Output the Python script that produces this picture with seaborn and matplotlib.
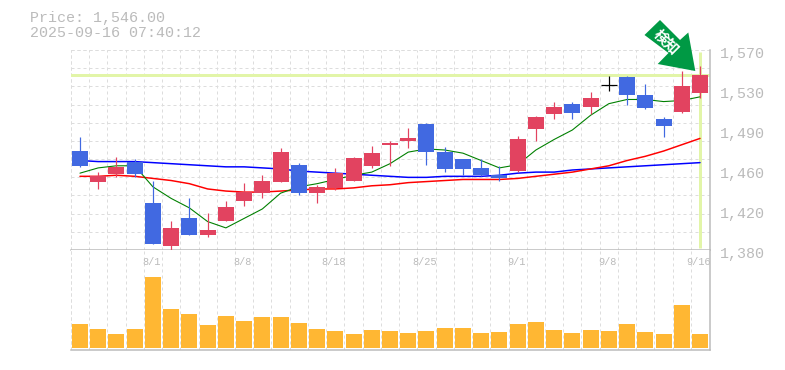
import numpy as np
import pandas as pd
import matplotlib
matplotlib.use("Agg")
import matplotlib.pyplot as plt
from matplotlib.patches import Polygon
import seaborn as sns

# ---- data ----
highs  = [1487,1454,1468,1466,1446,1408,1429,1415,1427,1444,1451,1477,1463,1442,1458,1468,1479,1484,1496,1501,1478,1466,1466,1460,1488,1507,1521,1521,1530,1545,1545,1538,1506,1550,1555]
lows   = [1459,1438,1449,1449,1386,1380,1394,1392,1408,1422,1429,1445,1432,1425,1437,1446,1458,1460,1477,1461,1454,1451,1450,1446,1454,1484,1504,1504,1509,1531,1518,1514,1487,1510,1524]
opens  = [1474,1445,1452,1464,1425,1384,1410,1394,1408,1427,1434,1445,1461,1434,1439,1446,1460,1480,1484,1500,1473,1466,1458,1451,1455,1495,1509,1519,1516,1537,1544,1527,1504,1511,1529]
closes = [1460,1450,1459,1452,1386,1401,1394,1399,1421,1435,1446,1473,1434,1440,1453,1467,1472,1482,1486,1473,1457,1457,1451,1448,1485,1506,1516,1510,1524,1537,1527,1515,1498,1536,1546]
ma_short = [1453,1458,1460,1460,1440,1429,1420,1407,1401,1410,1419,1434,1440,1443,1447,1451,1454,1462,1473,1476,1475,1472,1465,1458,1461,1475,1485,1494,1508,1519,1523,1523,1521,1522,1525.5]
ma_long  = [1465,1464,1464,1464,1463,1462,1461,1460,1459,1459,1458,1457,1455,1454,1453,1452,1451,1450,1449,1449,1450,1450,1450,1451,1453,1454,1454,1456,1457,1458,1459,1460,1461,1462,1463]
ma_mid   = [1450,1450,1451,1450,1448,1446,1443,1438,1436,1435,1435,1436,1437,1438,1438,1439,1441,1442,1444,1445,1446,1447,1447,1447,1448,1450,1452,1454,1457,1460,1465,1469,1474,1480,1486]
volumes  = [24,19,14,19,71,39,34,23,32,27,31,31,25,19,17,14,18,17,15,17,20,20,15,16,24,26,18,15,18,17,24,16,14,43,14]
date_ticks  = [4,9,14,19,24,29,34]
date_labels = ["8/1","8/8","8/18","8/25","9/1","9/8","9/16"]
price_ticks  = [1570,1532,1494,1456,1418,1380]
price_labels = ["1,570","1,530","1,490","1,460","1,420","1,380"]
last_price = 1546
title_lines = ["Price: 1,546.00","2025-09-16 07:40:12"]
badge_text = "検知"

# ---- style ----
RED, BLUE, ORANGE = "#E24360", "#4169E1", "#FFB733"
GRID, FRAME, TEXT = "#DDDDDD", "#BBBBBB", "#BBBBBB"
HILITE, BADGE = "#E2F5A8", "#009944"
W, H = 785, 370
PX = 0.72  # one pixel in points at dpi 100
sns.set_theme(style="white")
plt.rcParams["font.family"] = ["Liberation Mono", "DejaVu Sans Mono"]

df = pd.DataFrame(dict(i=np.arange(len(opens)), o=opens, h=highs, l=lows, c=closes,
                       s=ma_short, m=ma_mid, g=ma_long, v=volumes))

fig = plt.figure(figsize=(W/100, H/100), dpi=100, facecolor="white")
L, R = 70.5, 709.5
ax = fig.add_axes([L/W, 1-250/H, (R-L)/W, 200/H])
av = fig.add_axes([L/W, 1-350/H, (R-L)/W, 100/H])
XLIM = (-0.52, 34.52)
DASH = dict(color=GRID, lw=PX, dashes=(3, 3))

for a in (ax, av):
    a.set_xlim(*XLIM)
    a.set_facecolor("white")
    a.set_xticks(df.i - 0.5)
    a.xaxis.grid(True, **DASH)
    a.set_axisbelow(True)
    a.tick_params(length=0, labelbottom=False, labelleft=False)
    a.spines["left"].set_visible(False)
    a.spines["top"].set_visible(False)
    for s in ("right", "bottom"):
        a.spines[s].set_color(FRAME)
        a.spines[s].set_linewidth(1.5 * PX)
ax.set_ylim(1380, 1570)
ax.set_yticks(np.linspace(1380, 1570, 12))
ax.yaxis.grid(True, **DASH)
av.set_ylim(-2, 98)
av.set_yticks([])

ax.axvline(XLIM[0], zorder=0.5, **DASH)
av.axvline(XLIM[0], zorder=0.5, **DASH)
ax.axhline(1570, zorder=0.5, clip_on=False, **DASH)

# last-price highlight
ax.axhline(last_price, color=HILITE, lw=3 * PX, zorder=1.5)
ax.plot([df.i.iloc[-1]]*2, [1382, 1568], color=HILITE, lw=3 * PX, zorder=1.5, solid_capstyle="butt")

# moving averages
for col, colr, lw in (("g", "#0000FF", 1.5*PX), ("m", "#FF0000", 1.5*PX), ("s", "#008000", 1.1*PX)):
    sns.lineplot(data=df, x="i", y=col, ax=ax, color=colr, lw=lw, zorder=2,
                 errorbar=None, estimator=None)
ax.set_xlabel(""); ax.set_ylabel("")
ax.set_xlim(*XLIM); ax.set_ylim(1380, 1570)

# candles
BW = 0.877
for r in df.itertuples():
    if r.o == r.c:
        col = "black"
    else:
        col = RED if r.c > r.o else BLUE
    ax.vlines(r.i, r.l, r.h, color=col, lw=1.2 * PX, zorder=3, clip_on=False)
    if r.o == r.c:
        ax.hlines(r.o, r.i - BW/2, r.i + BW/2, color=col, lw=1.2 * PX, zorder=3)
    else:
        ax.bar(r.i, abs(r.c - r.o), bottom=min(r.o, r.c), width=BW, color=col, lw=0, zorder=3)

# volume
sns.barplot(data=df, x="i", y="v", ax=av, native_scale=True, color=ORANGE, saturation=1,
            width=BW, linewidth=0, zorder=3)
av.set_xlabel(""); av.set_ylabel("")
av.set_xlim(*XLIM); av.set_ylim(-2, 98)
av.set_xticks(df.i - 0.5)
av.tick_params(length=0, labelbottom=False, labelleft=False)

# date labels sit just under the price panel
for t, lab in zip(date_ticks, date_labels):
    av.annotate(lab, (t, 1), xycoords=("data", "axes fraction"), xytext=(-1.5, -12), textcoords="offset pixels",
                ha="center", va="center", fontsize=7.4, color=TEXT, zorder=5, annotation_clip=False)
# price labels
for v, lab in zip(price_ticks, price_labels):
    ax.annotate(lab, (1, v), xycoords=("axes fraction", "data"), xytext=(10, -4), textcoords="offset pixels",
                ha="left", va="center", fontsize=10.8, color=TEXT, annotation_clip=False)

# header
for y, line in zip((18, 33), title_lines):
    fig.text(29.5/W, 1-y/H, line, ha="left", va="center", fontsize=10.8, color=TEXT)

# badge arrow
arrow_px = [(644.5, 35), (660, 20), (680, 40), (688.3, 32.5), (695.3, 71), (657.7, 64), (668.5, 53)]
fig.add_artist(Polygon([(x/W, 1-y/H) for x, y in arrow_px], closed=True, transform=fig.transFigure,
                       facecolor=BADGE, edgecolor="none", zorder=10))
fig.text(667/W, 1-42/H, badge_text, rotation=-45, rotation_mode="anchor", ha="center", va="center",
         fontsize=10.5, color="white", fontweight="bold", family=["Noto Sans CJK JP", "DejaVu Sans"], zorder=11)

fig.savefig("out.png", dpi=100, facecolor="white")
